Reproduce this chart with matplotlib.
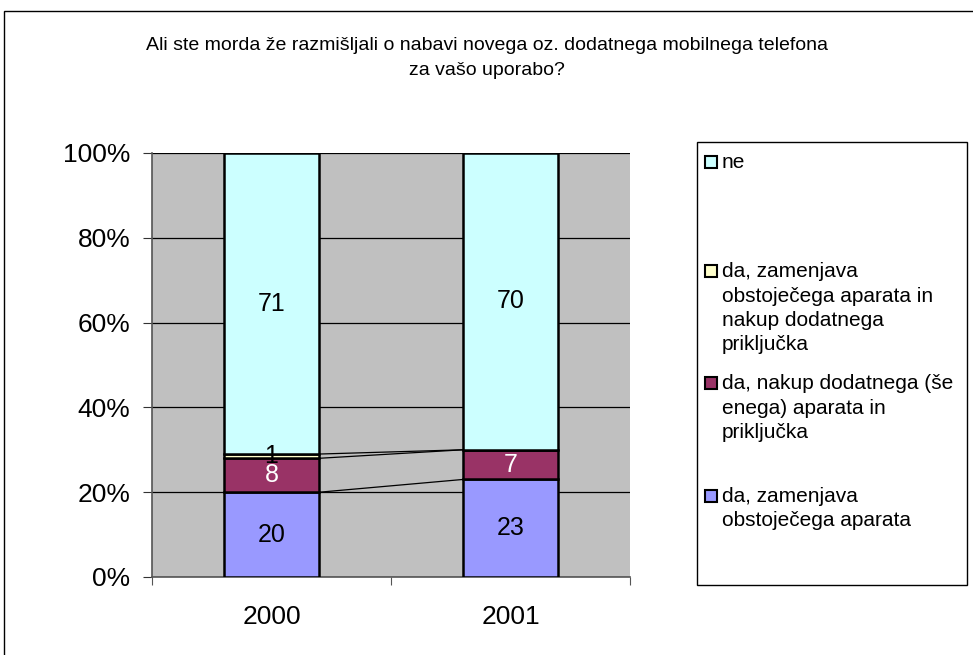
import numpy as np
import matplotlib
matplotlib.use('Agg')
import matplotlib.pyplot as plt
from matplotlib.patches import Rectangle

plt.rcParams['font.family'] = ['Liberation Sans', 'DejaVu Sans']

# data
years = ['2000', '2001']
series_names = [
    'da, zamenjava\nobstoječega aparata',
    'da, nakup dodatnega (še\nenega) aparata in\npriključka',
    'da, zamenjava\nobstoječega aparata in\nnakup dodatnega\npriključka',
    'ne',
]
values = [
    [20, 23],
    [8, 7],
    [1, 0],
    [71, 70],
]
colors = ['#9999FF', '#993366', '#FFFFCC', '#CCFFFF']
label_colors = ['black', 'white', 'black', 'black']
title_lines = ['Ali ste morda že razmišljali o nabavi novega oz. dodatnega mobilnega telefona',
               'za vašo uporabo?']

W, H = 973, 655
fig = plt.figure(figsize=(W / 100, H / 100), dpi=100)

def fx(px):
    return px / W

def fy(py):
    return 1 - py / H

# outer chart border (left + top, runs off the right/bottom edges)
fig.patches.append(Rectangle((fx(4), -0.05), 1.1, fy(11) + 0.05,
                             transform=fig.transFigure, fill=False,
                             edgecolor='black', lw=1.0))

ax = fig.add_axes([fx(152), fy(577), 478 / W, 424 / H])
ax.set_facecolor('#C0C0C0')

x = np.arange(len(years))
bar_w = 0.4
bottoms = np.zeros(len(years))
tops = []
for vals, col, lc in zip(values, colors, label_colors):
    vals = np.array(vals, dtype=float)
    ax.bar(x, vals, bar_w, bottom=bottoms, color=col, edgecolor='black',
           lw=1.8, zorder=3)
    for xi, v, b in zip(x, vals, bottoms):
        if v > 0:
            ax.text(xi, b + v / 2, f'{v:.0f}', ha='center', va='center',
                    fontsize=18, color=lc, zorder=5)
    bottoms = bottoms + vals
    tops.append(bottoms.copy())

# series lines between bars
for t in tops[:-1]:
    ax.plot([x[0] + bar_w / 2, x[1] - bar_w / 2], [t[0], t[1]],
            color='black', lw=0.9, zorder=4)

ax.set_xlim(-0.5, 1.5)
ax.set_ylim(0, 100)
ax.set_yticks(np.arange(0, 101, 20))
ax.set_yticklabels([f'{v}%' for v in range(0, 101, 20)], fontsize=19)
ax.yaxis.grid(True, color='black', lw=0.9)
ax.set_axisbelow(True)
ax.set_xticks([-0.5, 0.5, 1.5], minor=False)
ax.set_xticklabels([])
ax.set_xticks(x, minor=True)
ax.set_xticklabels(years, minor=True, fontsize=19)
ax.tick_params(axis='x', which='minor', length=0, pad=20)
ax.tick_params(axis='x', which='major', length=6, direction='out', color='#555555')
ax.tick_params(axis='y', length=6.5, direction='out', pad=9, color='#333333')
for s in ['top', 'right']:
    ax.spines[s].set_visible(False)
for s in ['left', 'bottom']:
    ax.spines[s].set_color('#555555')
    ax.spines[s].set_linewidth(1.2)

for yy, line in zip([50, 75], title_lines):
    fig.text(fx(487), fy(yy), line, ha='center', va='baseline', fontsize=14)

# legend
fig.patches.append(Rectangle((fx(697), fy(585)), 270 / W, 443 / H,
                             transform=fig.transFigure, facecolor='white',
                             edgecolor='black', lw=1.0))
legend_base = [168, 277, 389, 502]
order = [3, 2, 1, 0]
line_gap = 24.5
for yb, i in zip(legend_base, order):
    fig.patches.append(Rectangle((fx(705), fy(yb)), 12 / W, 12 / H,
                                 transform=fig.transFigure,
                                 facecolor=colors[i], edgecolor='black',
                                 lw=1.5))
    for k, line in enumerate(series_names[i].split('\n')):
        fig.text(fx(722), fy(yb + k * line_gap), line,
                 ha='left', va='baseline', fontsize=15)

fig.savefig('out.png', dpi=100)
